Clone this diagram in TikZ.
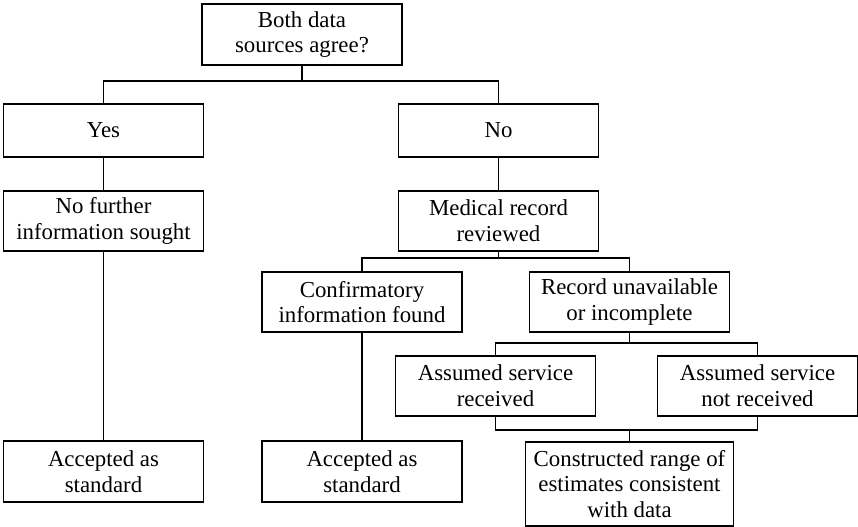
\documentclass[tikz,border=0pt]{standalone}
\usepackage{fontspec}
\setmainfont{Liberation Serif}
\usetikzlibrary{calc}
\tikzset{
  stage/.style={draw, line width=1pt, minimum width=4cm, minimum height=1.2cm,
    inner sep=1pt, align=center, font=\fontsize{13}{14.6}\selectfont},
  link/.style={line width=1pt}
}

\begin{document}
\begin{tikzpicture}
    \useasboundingbox (0,0) rectangle (17.16,-10.54);
    % boxes
    \node[stage,minimum height=1.22cm] (agree) at (6.04,-0.69) {Both data\\sources agree?};
    \node[stage,minimum height=1.06cm] (yes) at (2.07,-2.61) {Yes};
    \node[stage,minimum height=1.06cm] (no) at (9.97,-2.61) {No};
    \node[stage] (nofurther) at (2.07,-4.42) {No further\\information sought};
    \node[stage] (medical) at (9.97,-4.42) {Medical record\\reviewed};
    \node[stage] (confirm) at (7.24,-6.04) {Confirmatory\\information found};
    \node[stage] (unavail) at (12.59,-6.04) {Record unavailable\\or incomplete};
    \node[stage] (received) at (9.91,-7.72) {Assumed service\\received};
    \node[stage] (notrec) at (15.15,-7.72) {Assumed service\\not received};
    \node[stage,minimum height=1.22cm] (acceptL) at (2.07,-9.43) {Accepted as\\standard};
    \node[stage,minimum height=1.22cm] (acceptM) at (7.24,-9.43) {Accepted as\\standard};
    \node[stage,minimum width=4.16cm,minimum height=1.68cm] (range) at (12.59,-9.68)
    {Constructed range of\\estimates consistent\\with data};
    % branch points
    \coordinate (split1) at (6.04,-1.62);
    \coordinate (split2) at (9.97,-5.16);
    \coordinate (split3) at (12.59,-6.86);
    \coordinate (merge) at (12.59,-8.60);
    % connectors
    \draw[link] (agree.south) -- (split1);
    \draw[link] (yes.north) |- (split1) -| (no.north);
    \draw[link] (yes.south) -- (nofurther.north);
    \draw[link] (no.south) -- (medical.north);
    \draw[link] (nofurther.south) -- (acceptL.north);
    \draw[link] (medical.south) -- (split2);
    \draw[link] (confirm.north) |- (split2) -| (unavail.north);
    \draw[link] (confirm.south) -- (acceptM.north);
    \draw[link] (unavail.south) -- (split3);
    \draw[link] (received.north) |- (split3) -| (notrec.north);
    \draw[link] (received.south) |- (merge) -| (notrec.south);
    \draw[link] (merge) -- (range.north);
\end{tikzpicture}
\end{document}
